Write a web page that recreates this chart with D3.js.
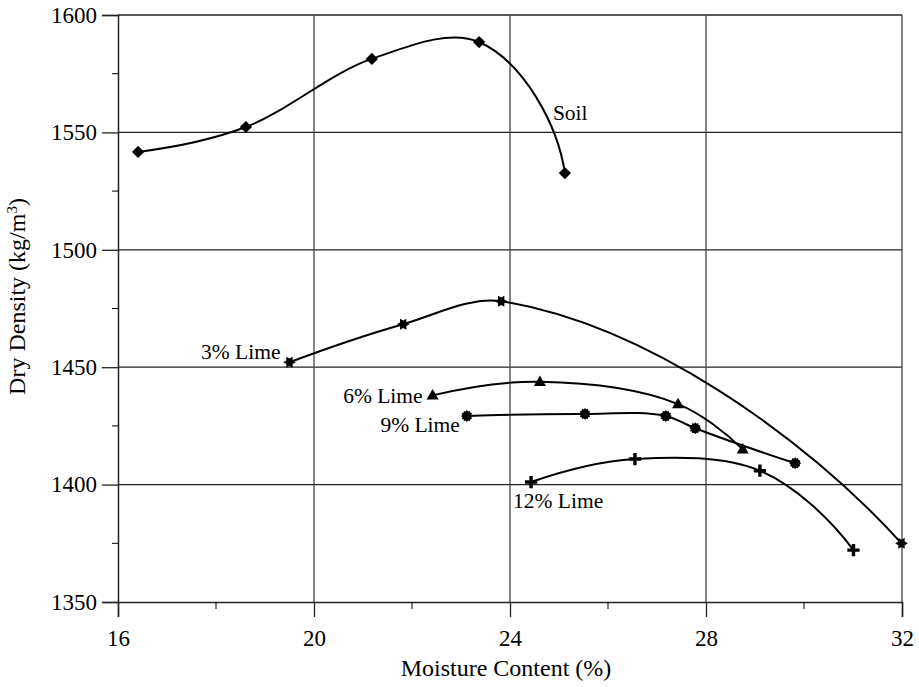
<!DOCTYPE html>
<html>
<head>
<meta charset="utf-8">
<script src="https://cdn.jsdelivr.net/npm/d3@7"></script>
<style>
  body { margin: 0; background: #fff; }
</style>
</head>
<body>
<div id="chart"></div>
<script>
// Values: moisture content (%) and dry density (kg/m3)
const soilMoisture = [16.41, 18.61, 21.18, 23.37, 25.12];
const soilDensity = [1541.7, 1552.3, 1581.3, 1588.5, 1532.7];

const lime3Moisture = [19.5, 21.82, 23.82, 31.99];
const lime3Density = [1452.1, 1468.3, 1478.1, 1375.0];

const lime6Moisture = [22.42, 24.61, 27.43, 28.75];
const lime6Density = [1438.0, 1443.8, 1434.3, 1415.0];

const lime9Moisture = [23.12, 25.53, 27.18, 27.78, 29.82];
const lime9Density = [1429.2, 1430.1, 1429.2, 1424.0, 1409.1];

const lime12Moisture = [24.43, 26.55, 29.1, 31.01];
const lime12Density = [1401.1, 1410.9, 1405.9, 1372.1];

const seriesNames = ["Soil", "3% Lime", "6% Lime", "9% Lime", "12% Lime"];

const xMajorTicks = [16, 20, 24, 28, 32];
const xMinorTicks = [18, 22, 26, 30];
const yMajorTicks = [1350, 1400, 1450, 1500, 1550, 1600];
const yMinorTicks = [1375, 1425, 1475, 1525, 1575];

const xTitle = "Moisture Content (%)";

const serif = '"Liberation Serif", "Times New Roman", serif';

// Smoothed line like the spreadsheet one: bezier, tangent on the bisector,
// handles a fraction of the segment length, end tangents mostly mirrored on the chord
function curveSmooth(context) {
  const k = 0.31;
  let pts;
  const unit = (a, b) => {
    const dx = b[0] - a[0], dy = b[1] - a[1], l = Math.hypot(dx, dy) || 1;
    return [dx / l, dy / l, l];
  };
  const endTangent = (u, c) => {
    const d = u[0] * c[0] + u[1] * c[1];
    const rx = 2 * d * c[0] - u[0], ry = 2 * d * c[1] - u[1];
    const bx = 0.75 * rx + 0.25 * c[0], by = 0.75 * ry + 0.25 * c[1];
    const l = Math.hypot(bx, by) || 1;
    return [bx / l, by / l];
  };
  return {
    areaStart() {}, areaEnd() {},
    lineStart() { pts = []; },
    point(px, py) { pts.push([+px, +py]); },
    lineEnd() {
      const n = pts.length;
      if (!n) return;
      context.moveTo(pts[0][0], pts[0][1]);
      if (n === 2) context.lineTo(pts[1][0], pts[1][1]);
      if (n < 3) return;
      const tan = [];
      for (let i = 1; i < n - 1; i++) {
        const a = unit(pts[i - 1], pts[i]), b = unit(pts[i], pts[i + 1]);
        const sx = a[0] + b[0], sy = a[1] + b[1], l = Math.hypot(sx, sy) || 1;
        tan[i] = [sx / l, sy / l];
      }
      tan[0] = endTangent(tan[1], unit(pts[0], pts[1]));
      tan[n - 1] = endTangent(tan[n - 2], unit(pts[n - 2], pts[n - 1]));
      for (let i = 0; i < n - 1; i++) {
        const d = unit(pts[i], pts[i + 1])[2] * k;
        context.bezierCurveTo(
          pts[i][0] + tan[i][0] * d, pts[i][1] + tan[i][1] * d,
          pts[i + 1][0] - tan[i + 1][0] * d, pts[i + 1][1] - tan[i + 1][1] * d,
          pts[i + 1][0], pts[i + 1][1]);
      }
    }
  };
}

// Marker shapes (custom d3 symbol types, r = half size)
const symDiamond = { draw(ctx, size) { const r = Math.sqrt(size) / 2;
  ctx.moveTo(0, -r); ctx.lineTo(r, 0); ctx.lineTo(0, r); ctx.lineTo(-r, 0); ctx.closePath(); } };
const symTriangle = { draw(ctx, size) { const r = Math.sqrt(size) / 2;
  ctx.moveTo(0, -r * 1.05); ctx.lineTo(r, r * 0.7); ctx.lineTo(-r, r * 0.7); ctx.closePath(); } };
function starType(points, inner, rot) {
  return { draw(ctx, size) { const r = Math.sqrt(size) / 2;
    for (let i = 0; i < points * 2; i++) {
      const a = Math.PI * i / points + rot;
      const rr = i % 2 === 0 ? r : r * inner;
      const px = rr * Math.cos(a), py = rr * Math.sin(a);
      if (i === 0) ctx.moveTo(px, py); else ctx.lineTo(px, py);
    }
    ctx.closePath(); } };
}
const symPlus = { draw(ctx, size) { const r = Math.sqrt(size) / 2, t = 1.7;
  ctx.moveTo(-t, -r); ctx.lineTo(t, -r); ctx.lineTo(t, -t); ctx.lineTo(r, -t); ctx.lineTo(r, t);
  ctx.lineTo(t, t); ctx.lineTo(t, r); ctx.lineTo(-t, r); ctx.lineTo(-t, t); ctx.lineTo(-r, t);
  ctx.lineTo(-r, -t); ctx.lineTo(-t, -t); ctx.closePath(); } };

// series setup (label offset in px from a chosen point)
const series = [
  { name: seriesNames[0], xs: soilMoisture, ys: soilDensity, sym: symDiamond, size: 150, lab: { at: 4, dx: -12, dy: -53, anchor: "start" } },
  { name: seriesNames[1], xs: lime3Moisture, ys: lime3Density, sym: starType(6, 0.58, 0), size: 160, lab: { at: 0, dx: -9, dy: -3, anchor: "end" } },
  { name: seriesNames[2], xs: lime6Moisture, ys: lime6Density, sym: symTriangle, size: 144, lab: { at: 0, dx: -10, dy: 8, anchor: "end" } },
  { name: seriesNames[3], xs: lime9Moisture, ys: lime9Density, sym: starType(12, 0.78, 0), size: 140, lab: { at: 0, dx: -7, dy: 16, anchor: "end" } },
  { name: seriesNames[4], xs: lime12Moisture, ys: lime12Density, sym: symPlus, size: 150, lab: { at: 0, dx: -18, dy: 26, anchor: "start" } }
];

const W = 919, H = 687;
const margin = { top: 15, right: 17, bottom: 85, left: 118 };
const width = W - margin.left - margin.right;
const height = H - margin.top - margin.bottom;

const svg = d3.select("#chart").append("svg")
  .attr("width", W).attr("height", H);
const g = svg.append("g").attr("transform", `translate(${margin.left},${margin.top})`);

const x = d3.scaleLinear().domain([16, 32]).range([0, width]);
const y = d3.scaleLinear().domain([1350, 1600]).range([height, 0]);

// grid lines
g.append("g").selectAll("line").data(yMajorTicks.slice(1)).join("line")
  .attr("x1", 0).attr("x2", width)
  .attr("y1", d => y(d)).attr("y2", d => y(d))
  .attr("stroke", "#222").attr("stroke-width", 1.3);
g.append("g").selectAll("line").data(xMajorTicks.slice(1)).join("line")
  .attr("x1", d => x(d)).attr("x2", d => x(d))
  .attr("y1", 0).attr("y2", height)
  .attr("stroke", "#444").attr("stroke-width", 1.3);

// axes
const yAxis = g.append("g")
  .call(d3.axisLeft(y).tickValues(yMajorTicks).tickSize(16).tickPadding(5).tickFormat(d3.format("d")));
yAxis.append("g").selectAll("line").data(yMinorTicks).join("line")
  .attr("x1", -6).attr("x2", 0).attr("y1", d => y(d)).attr("y2", d => y(d)).attr("stroke", "#000");

const xAxis = g.append("g").attr("transform", `translate(0,${height})`)
  .call(d3.axisBottom(x).tickValues(xMajorTicks).tickSize(15).tickPadding(13));
xAxis.append("g").selectAll("line").data(xMinorTicks).join("line")
  .attr("x1", d => x(d)).attr("x2", d => x(d)).attr("y1", 0).attr("y2", 7).attr("stroke", "#000");

[xAxis, yAxis].forEach(a => {
  a.attr("font-family", null);
  a.select(".domain").attr("stroke", "#222").attr("stroke-width", 1.5);
  a.selectAll(".tick line").attr("stroke", "#222").attr("stroke-width", 1.3);
  a.selectAll(".tick text").style("font-family", serif).style("font-size", "23px").attr("fill", "#000");
});

// axis titles
g.append("text")
  .attr("x", width / 2 - 4).attr("y", height + 74)
  .attr("text-anchor", "middle")
  .style("font-family", serif).style("font-size", "24px")
  .text(xTitle);

const yt = g.append("text")
  .attr("transform", `translate(${-93},${height / 2 - 12}) rotate(-90)`)
  .attr("text-anchor", "middle")
  .style("font-family", serif).style("font-size", "24px");
yt.append("tspan").text("Dry Density (kg/m");
yt.append("tspan").attr("baseline-shift", "super").style("font-size", "15px").text("3");
yt.append("tspan").text(")");

// curves and markers
const line = d3.line().curve(curveSmooth)
  .x(d => x(d[0])).y(d => y(d[1]));

series.forEach(s => {
  const pts = s.xs.map((v, i) => [v, s.ys[i]]);
  g.append("path").datum(pts)
    .attr("d", line).attr("fill", "none")
    .attr("stroke", "#000").attr("stroke-width", 2);
  g.append("g").selectAll("path").data(pts).join("path")
    .attr("transform", d => `translate(${x(d[0])},${y(d[1])})`)
    .attr("d", d3.symbol().type(s.sym).size(s.size))
    .attr("fill", "#000");
  const p = pts[s.lab.at];
  g.append("text")
    .attr("x", x(p[0]) + s.lab.dx).attr("y", y(p[1]) + s.lab.dy)
    .attr("text-anchor", s.lab.anchor)
    .style("font-family", serif).style("font-size", "21.5px")
    .text(s.name);
});
</script>
</body>
</html>
